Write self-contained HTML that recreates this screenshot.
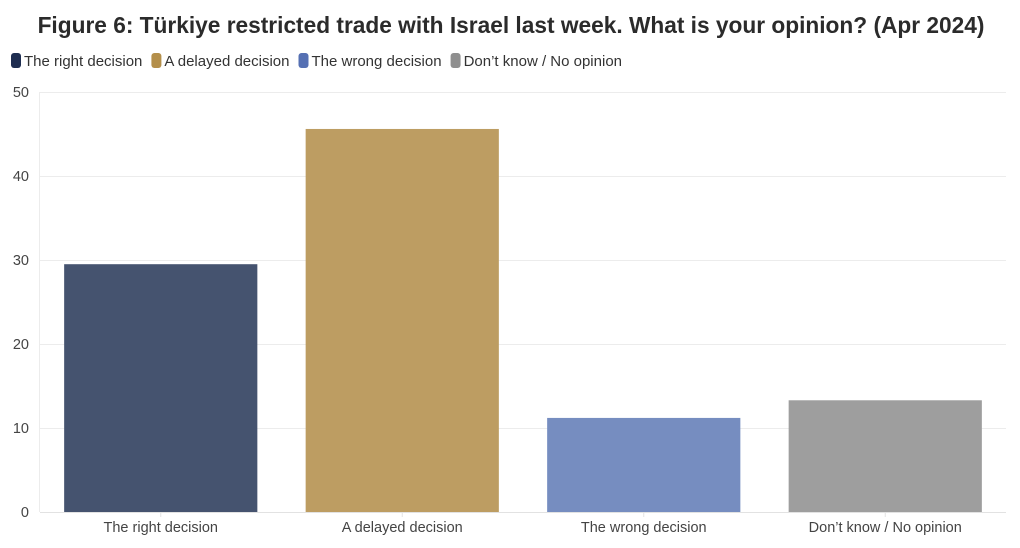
<!DOCTYPE html>
<html><head><meta charset="utf-8"><style>
body{margin:0;background:#fff;font-family:"Liberation Sans",sans-serif;}
#wrap{position:relative;width:1020px;height:548px;overflow:hidden}
</style></head><body>
<div id="wrap">
<svg id="svg" width="1020" height="548" xmlns="http://www.w3.org/2000/svg">
<text x="511" y="33" text-anchor="middle" font-size="22.7" font-weight="bold" fill="#2b2b2b" font-family="Liberation Sans, sans-serif">Figure 6: Türkiye restricted trade with Israel last week. What is your opinion? (Apr 2024)</text>
<g id="legend"></g>
<g id="grid"></g>
<g id="bars"></g>
<g id="axes"></g>
</svg>
</div>
<script>
const categories=["The right decision","A delayed decision","The wrong decision","Don\u2019t know / No opinion"];
const values=[29.5,45.6,11.2,13.3];
const barColors=["#45536f","#bd9d62","#768dc0","#9e9e9e"];
const legendColors=["#1e2d50","#b48f4a","#5570b3","#8f8f8f"];
const yTicks=[0,10,20,30,40,50];
const NS="http://www.w3.org/2000/svg";
const X0=40,X1=1006,Y0=512,Y1=92;
const band=(X1-X0)/categories.length;
function y(v){return Y0-(v/50)*(Y0-Y1);}
function xb(i){return X0+i*band;}
function mk(t,a,p){const e=document.createElementNS(NS,t);for(const k in a)e.setAttribute(k,a[k]);p.appendChild(e);return e;}
const grid=document.getElementById('grid'),bars=document.getElementById('bars'),axes=document.getElementById('axes'),legend=document.getElementById('legend');
mk('line',{x1:X0-0.5,x2:X0-0.5,y1:Y1,y2:Y0,stroke:'#ececec'},grid);
yTicks.forEach(t=>{
 const l=mk('line',{x1:X0,x2:X1,y1:y(t)+0.5,y2:y(t)+0.5,stroke:t===0?'#e2e2e2':'#ececec'},grid);
 
 
 const tx=mk('text',{x:29,y:y(t)+5,'text-anchor':'end','font-size':14.5,fill:'#444'},axes);
 tx.textContent=t;
 
 
});
categories.forEach((c,i)=>{
 const pad=band*0.1,w=band*0.8;
 const r=mk('rect',{x:xb(i)+pad,y:y(values[i]),width:w,height:Y0-y(values[i]),fill:barColors[i]},bars);
 
 
 const tk=mk('line',{x1:xb(i)+band/2,x2:xb(i)+band/2,y1:Y0,y2:Y0+5,stroke:'#e2e2e2'},axes);
 
 
 const tx=mk('text',{x:xb(i)+band/2,y:532,'text-anchor':'middle','font-size':14.5,fill:'#444'},axes);
 tx.textContent=c;
 
 
});
let lx=11;
categories.forEach((c,i)=>{
 const g=mk('g',{},legend);
 
 
 mk('rect',{x:lx,y:53,width:10,height:15,rx:3,fill:legendColors[i]},g);
 const t=mk('text',{x:lx+13,y:66,'font-size':15,fill:'#333'},g);
 t.textContent=c;
 lx+=13+t.getComputedTextLength()+9;
});
</script>
</body></html>
